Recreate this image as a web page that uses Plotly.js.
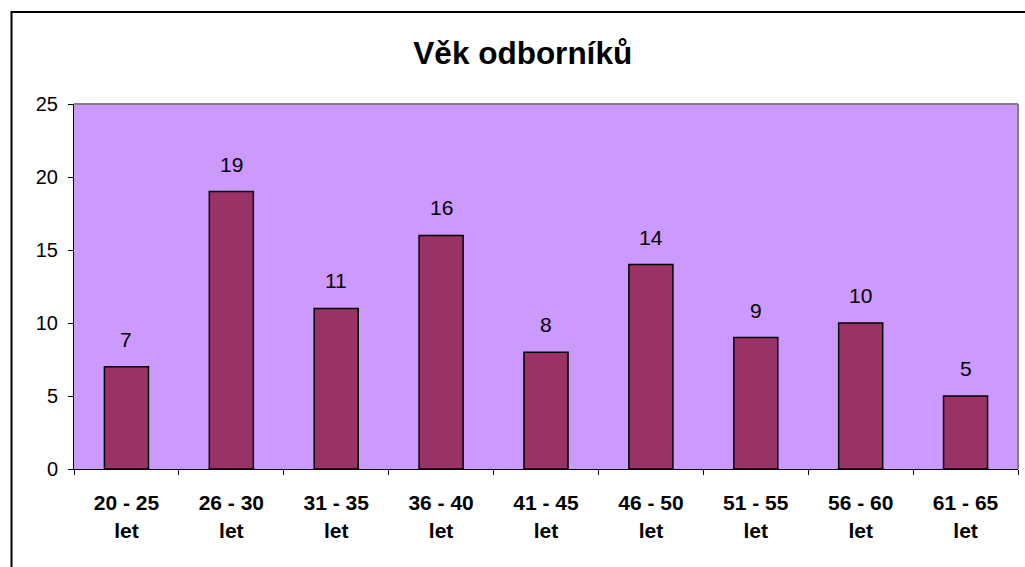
<!DOCTYPE html>
<html>
<head>
<meta charset="utf-8">
<script src="https://cdn.plot.ly/plotly-3.0.1.min.js"></script>
<style>
html, body { margin: 0; padding: 0; background: #ffffff; overflow: hidden; }
#chart { width: 1025px; height: 567px; }
</style>
</head>
<body>
<div id="chart"></div>
<script>
const chartTitle = "Věk odborníků";
const categories = ["20 - 25", "26 - 30", "31 - 35", "36 - 40", "41 - 45", "46 - 50", "51 - 55", "56 - 60", "61 - 65"];
const unitLabel = "let";
const counts = [7, 19, 11, 16, 8, 14, 9, 10, 5];
const yTicks = [0, 5, 10, 15, 20, 25];

const FONT = "Liberation Sans, Arial, sans-serif";

const trace = {
  type: "bar",
  x: categories,
  y: counts,
  width: 0.42,
  marker: { color: "#993366", line: { color: "#000000", width: 1.5 } },
  hoverinfo: "x+y"
};

const valueLabels = categories.map((c, i) => ({
  x: c, y: counts[i], xref: "x", yref: "y",
  text: String(counts[i]), showarrow: false,
  yanchor: "bottom", yshift: 14,
  font: { family: FONT, size: 21, color: "#000000" }
}));

const layout = {
  width: 1025, height: 567,
  margin: { l: 74, r: 7, t: 104, b: 98 },
  paper_bgcolor: "#ffffff",
  plot_bgcolor: "#CC99FF",
  showlegend: false,
  title: {
    text: chartTitle,
    font: { family: FONT, size: 31.5, color: "#000000", weight: "bold" },
    xref: "container", x: 0.51, xanchor: "center",
    yref: "container", y: 0.9074, yanchor: "middle"
  },
  xaxis: {
    type: "category",
    tickmode: "array",
    tickvals: categories,
    ticktext: categories.map(c => c + "<br>" + unitLabel),
    tickson: "boundaries",
    ticks: "outside", ticklen: 5, tickwidth: 1, tickcolor: "#000000",
    showline: true, linecolor: "#000000", linewidth: 1,
    showgrid: false, zeroline: false,
    ticklabelstandoff: 15,
    tickfont: { family: FONT, size: 21, color: "#000000", weight: "bold" }
  },
  yaxis: {
    range: [0, 25],
    tickmode: "array", tickvals: yTicks,
    ticks: "outside", ticklen: 5, tickwidth: 1, tickcolor: "#000000",
    showline: true, linecolor: "#000000", linewidth: 1,
    showgrid: false, zeroline: false,
    ticklabelstandoff: 6,
    tickfont: { family: FONT, size: 20, color: "#000000" }
  },
  shapes: [
    { type: "line", xref: "paper", yref: "paper", x0: 0, x1: 1, y0: 1, y1: 1,
      line: { color: "#808080", width: 2 } },
    { type: "line", xref: "paper", yref: "paper", x0: 1, x1: 1, y0: 0, y1: 1,
      line: { color: "#808080", width: 2 } },
    { type: "rect", xref: "paper", yref: "paper", x0: -0.0662, x1: 1.03, y0: -0.4, y1: 1.252,
      line: { color: "#000000", width: 2 }, fillcolor: "rgba(0,0,0,0)" }
  ],
  annotations: valueLabels
};

Plotly.newPlot("chart", [trace], layout, { displayModeBar: false, staticPlot: true });
</script>
</body>
</html>
